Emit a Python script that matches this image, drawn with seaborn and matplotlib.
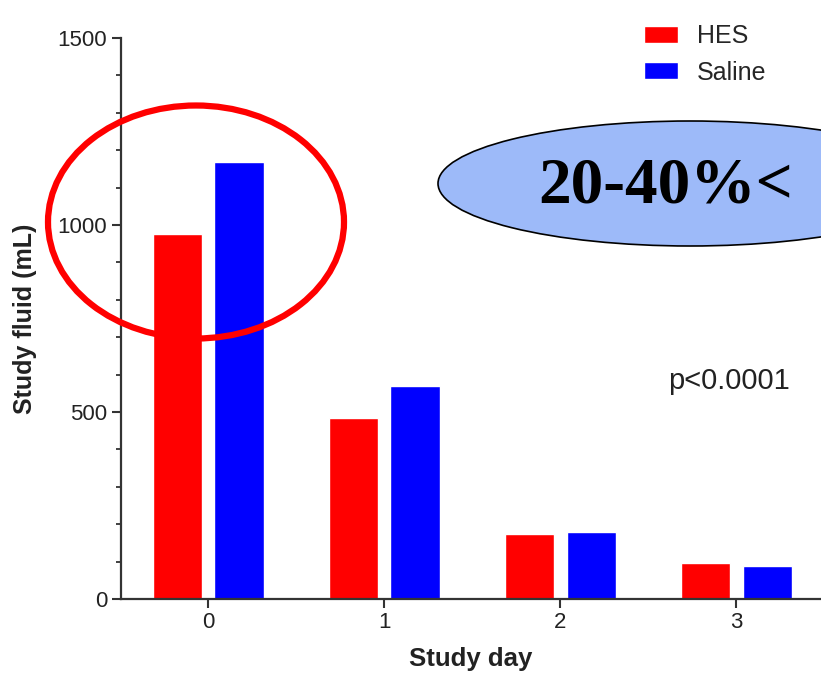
import numpy as np
import pandas as pd
import matplotlib
matplotlib.use("Agg")
import matplotlib.pyplot as plt
from matplotlib.patches import Ellipse
from matplotlib.ticker import MultipleLocator
import seaborn as sns

# values
days = ["0", "1", "2", "3"]
hes = [975, 484, 174, 96]
saline = [1168, 569, 179, 88]
groups = ["HES", "Saline"]
colors = ["#ff0000", "#0000ff"]

df = pd.DataFrame({
    "day": days * 2,
    "fluid": hes + saline,
    "group": [groups[0]] * len(days) + [groups[1]] * len(days),
})

sns.set_style("ticks")
plt.rcParams["font.family"] = ["Liberation Sans", "DejaVu Sans"]

W, H = 821, 678
fig = plt.figure(figsize=(W / 100, H / 100), dpi=100)
ax = fig.add_axes([121 / W, 1 - 599 / H, 1 - 121 / W, (599 - 38) / H])

sns.barplot(data=df, x="day", y="fluid", hue="group", palette=colors,
            width=0.7, gap=0.2, saturation=1, ax=ax)

ax.set_ylim(0, 1500)
ax.set_xlim(-0.495, 3.48)
ax.yaxis.set_major_locator(MultipleLocator(500))
ax.yaxis.set_minor_locator(MultipleLocator(100))
sns.despine(ax=ax)
for s in ["left", "bottom"]:
    ax.spines[s].set_linewidth(1.6)
    ax.spines[s].set_color("#333333")
ax.tick_params(axis="both", which="major", length=6.5, width=1.5,
               color="#333333", labelsize=16, labelcolor="#222222")
ax.tick_params(axis="y", which="minor", length=3.5, width=1.3, color="#333333")
ax.tick_params(axis="x", pad=3)

ax.set_xlabel("Study day", fontsize=18.5, fontweight="bold", color="#222222",
              labelpad=10)
ax.set_ylabel("Study fluid (mL)", fontsize=18, fontweight="bold", color="#222222",
              labelpad=15)

handles, labels = ax.get_legend_handles_labels()
ax.legend(handles, labels, loc="upper left", frameon=False,
          bbox_to_anchor=(644 / W, 1 - 24 / H), bbox_transform=fig.transFigure,
          fontsize=18, handlelength=1.35, handleheight=0.65,
          handletextpad=0.75, labelspacing=0.5, borderpad=0, borderaxespad=0)

ax.text(729 / W, 1 - 381 / H, "p<0.0001", transform=fig.transFigure,
        ha="center", va="center", fontsize=21, color="#222222")

# highlight annotations
red = Ellipse((196 / W, 1 - 222 / H), 296 / W, 233 / H, transform=fig.transFigure,
              fill=False, edgecolor="#ff0000", linewidth=4.5, zorder=5)
fig.add_artist(red)
blue = Ellipse((690 / W, 1 - 183.5 / H), 504 / W, 125 / H, transform=fig.transFigure,
               facecolor="#9dbaf9", edgecolor="black", linewidth=1.2, zorder=5)
fig.add_artist(blue)
fig.text(666 / W, 1 - 187 / H, "20-40%<", ha="center", va="center",
         fontsize=47, fontweight="bold", color="black",
         family=["Liberation Serif", "DejaVu Serif"], zorder=6)

fig.savefig("out.png", dpi=100)
